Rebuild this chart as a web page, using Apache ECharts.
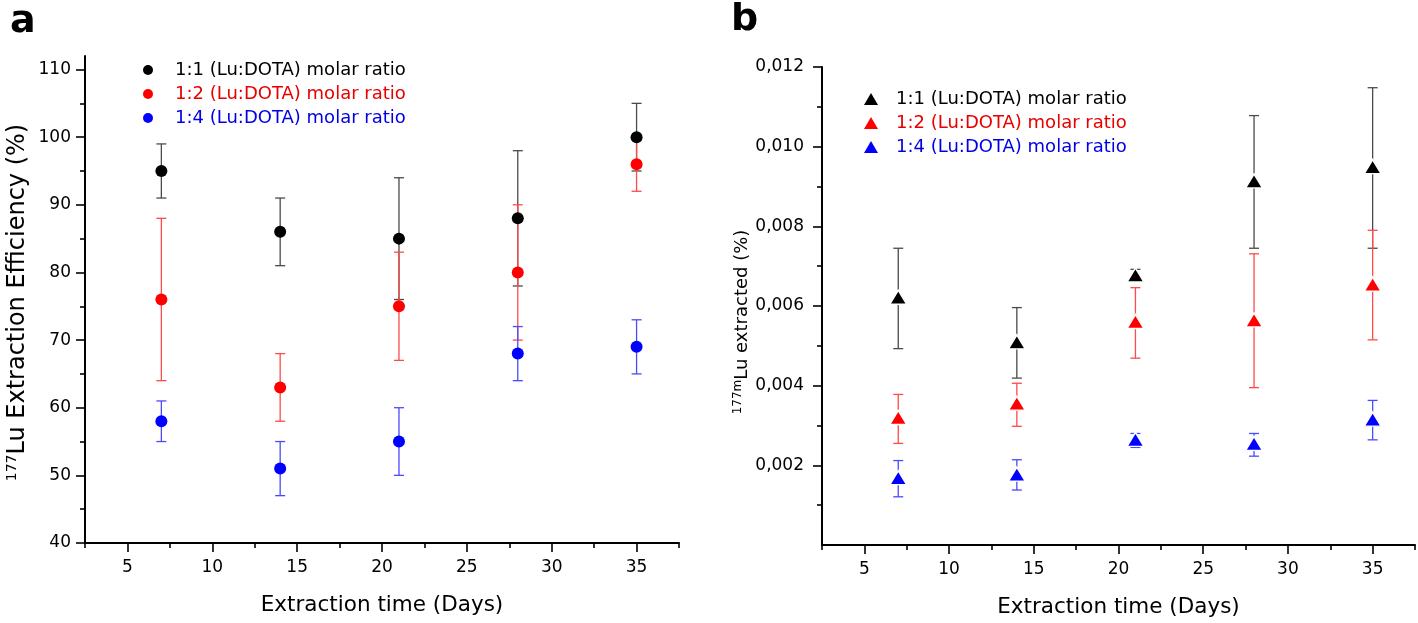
<!DOCTYPE html>
<html><head><meta charset="utf-8">
<script src="https://cdn.jsdelivr.net/npm/echarts@6/dist/echarts.min.js"></script>
<style>html,body{margin:0;padding:0;background:#fff}#c{width:1418px;height:623px}</style>
</head><body><div id="c"></div>
<script>
// ---------- data ----------
const days = [7, 14, 21, 28, 35];
const seriesNames = ['1:1 (Lu:DOTA) molar ratio', '1:2 (Lu:DOTA) molar ratio', '1:4 (Lu:DOTA) molar ratio'];

// Panel a: 177Lu extraction efficiency (%)
const effMean11 = [95, 86, 85, 88, 100];
const effLow11  = [91, 81, 76, 78, 95];
const effHigh11 = [99, 91, 94, 98, 105];
const effMean12 = [76, 63, 75, 80, 96];
const effLow12  = [64, 58, 67, 70, 92];
const effHigh12 = [88, 68, 83, 90, 100];
const effMean14 = [58, 51, 55, 68, 69];
const effLow14  = [55, 47, 50, 64, 65];
const effHigh14 = [61, 55, 60, 72, 73];

// Panel b: 177mLu extracted (%)
const extMean11 = [0.00622, 0.00510, 0.00678, 0.00914, 0.00950];
const extLow11  = [0.00493, 0.00419, 0.00665, 0.00745, 0.00745];
const extHigh11 = [0.00745, 0.00596, 0.00692, 0.01078, 0.01148];
const extMean12 = [0.00320, 0.00356, 0.00561, 0.00565, 0.00655];
const extLow12  = [0.00255, 0.00298, 0.00469, 0.00395, 0.00515];
const extHigh12 = [0.00378, 0.00406, 0.00646, 0.00731, 0.00790];
const extMean14 = [0.00169, 0.00178, 0.00265, 0.00255, 0.00316];
const extLow14  = [0.00121, 0.00138, 0.00245, 0.00223, 0.00264];
const extHigh14 = [0.00212, 0.00214, 0.00280, 0.00280, 0.00363];

// ticks
const xMajorTicks = [5, 10, 15, 20, 25, 30, 35];
const xMinorTicks = [2.5, 7.5, 12.5, 17.5, 22.5, 27.5, 32.5, 37.5];
const effMajorTicks = [40, 50, 60, 70, 80, 90, 100, 110];
const effMinorTicks = [45, 55, 65, 75, 85, 95, 105];
const extMajorTicks = [0.002, 0.004, 0.006, 0.008, 0.010, 0.012];
const extMinorTicks = [0.001, 0.003, 0.005, 0.007, 0.009, 0.011];

// ---------- styling ----------
const FONT = 'DejaVu Sans';
const markerColors = ['#000000', '#ff0000', '#0000ff'];
const textColors = ['#000000', '#e60000', '#0000e6'];
const errColors = ['#4a4a4a', '#ff4a4a', '#4a4aff'];

const chart = echarts.init(document.getElementById('c'));

function errSeries(xi, yi, lows, highs, color) {
  return {
    type: 'custom', xAxisIndex: xi, yAxisIndex: yi, silent: true,
    data: days.map((d, i) => [d, lows[i], highs[i]]),
    encode: { x: 0, y: [1, 2] },
    renderItem: function (params, api) {
      const x = api.value(0);
      const pLo = api.coord([x, api.value(1)]);
      const pHi = api.coord([x, api.value(2)]);
      const hw = 5;
      const st = { stroke: color, lineWidth: 1.3, fill: null };
      return {
        type: 'group',
        children: [
          { type: 'line', shape: { x1: pLo[0], y1: pLo[1], x2: pHi[0], y2: pHi[1] }, style: st },
          { type: 'line', shape: { x1: pLo[0] - hw, y1: pLo[1], x2: pLo[0] + hw, y2: pLo[1] }, style: st },
          { type: 'line', shape: { x1: pHi[0] - hw, y1: pHi[1], x2: pHi[0] + hw, y2: pHi[1] }, style: st }
        ]
      };
    }
  };
}
function scatterSeries(name, xi, yi, means, color, symbol, size, border) {
  return {
    name: name, type: 'scatter', xAxisIndex: xi, yAxisIndex: yi,
    symbol: symbol, symbolSize: size,
    itemStyle: { color: color, opacity: 1, borderColor: border ? '#ffffff' : color, borderWidth: border ? 1.5 : 0 },
    data: days.map((d, i) => [d, means[i]])
  };
}

const effSets = [[effMean11, effLow11, effHigh11], [effMean12, effLow12, effHigh12], [effMean14, effLow14, effHigh14]];
const extSets = [[extMean11, extLow11, extHigh11], [extMean12, extLow12, extHigh12], [extMean14, extLow14, extHigh14]];

const series = [];
effSets.forEach((s, k) => {
  series.push(errSeries(0, 0, s[1], s[2], errColors[k]));
  series.push(scatterSeries(seriesNames[k], 0, 0, s[0], markerColors[k], 'circle', 12, false));
});
extSets.forEach((s, k) => {
  series.push(errSeries(2, 2, s[1], s[2], errColors[k]));
  series.push(scatterSeries(seriesNames[k], 2, 2, s[0], markerColors[k], 'triangle', [17, 14], true));
});

const axisLineStyle = { show: true, onZero: false, lineStyle: { color: '#000', width: 2 } };
const tickStyle = { color: '#000', width: 1.6 };
const labelBase = { color: '#000', fontSize: 17, fontFamily: FONT };

function mainX(gi) {
  return {
    gridIndex: gi, type: 'value', min: 2.5, max: 37.5,
    axisLine: axisLineStyle,
    axisTick: { show: true, customValues: xMajorTicks, length: 9, lineStyle: tickStyle },
    axisLabel: Object.assign({ customValues: xMajorTicks, margin: 16 }, labelBase),
    splitLine: { show: false },
    name: 'Extraction time (Days)', nameLocation: 'middle', nameGap: 51,
    nameTextStyle: { fontSize: 21.5, color: '#000', fontFamily: FONT }
  };
}
function minorX(gi) {
  return {
    gridIndex: gi, type: 'value', min: 2.5, max: 37.5,
    axisLine: { show: false, onZero: false },
    axisTick: { show: true, customValues: xMinorTicks, length: 5, lineStyle: tickStyle },
    axisLabel: { show: false }, splitLine: { show: false }
  };
}

const option = {
  animation: false,
  backgroundColor: '#fff',
  textStyle: { fontFamily: FONT },
  title: [
    { text: 'a', left: 10, top: 3, padding: 0, textStyle: { fontSize: 38, fontWeight: 'bold', color: '#000', fontFamily: FONT } },
    { text: 'b', left: 731, top: 1, padding: 0, textStyle: { fontSize: 38, fontWeight: 'bold', color: '#000', fontFamily: FONT } }
  ],
  legend: [
    {
      orient: 'vertical', left: 143, top: 61, padding: 0, itemGap: 6, itemWidth: 10, itemHeight: 10,
      selectedMode: false,
      textStyle: { fontSize: 18, fontFamily: FONT, padding: [0, 0, 0, 17] },
      data: seriesNames.map((n, i) => ({ name: n, icon: 'circle', itemStyle: { color: markerColors[i] }, textStyle: { color: textColors[i] } }))
    },
    {
      orient: 'vertical', left: 864, top: 90, padding: 0, itemGap: 6, itemWidth: 14, itemHeight: 12,
      selectedMode: false,
      textStyle: { fontSize: 18, fontFamily: FONT, padding: [0, 0, 0, 13] },
      data: seriesNames.map((n, i) => ({ name: n, icon: 'triangle', itemStyle: { color: markerColors[i], borderWidth: 0 }, textStyle: { color: textColors[i] } }))
    }
  ],
  grid: [
    { left: 85, width: 594, top: 56, bottom: 80 },
    { left: 85, width: 594, top: 56, bottom: 80 },
    { left: 822, width: 593, top: 67, bottom: 78 },
    { left: 822, width: 593, top: 67, bottom: 78 }
  ],
  xAxis: [mainX(0), minorX(1), mainX(2), minorX(3)],
  yAxis: [
    {
      gridIndex: 0, type: 'value', min: 40, max: 112,
      axisLine: axisLineStyle,
      axisTick: { show: true, customValues: effMajorTicks, length: 9, lineStyle: tickStyle },
      axisLabel: Object.assign({ customValues: effMajorTicks, margin: 14 }, labelBase),
      splitLine: { show: false },
      name: '{sup|177}{main|Lu Extraction Efficiency (%)}', nameLocation: 'middle', nameGap: 54,
      nameTextStyle: {
        color: '#000', fontFamily: FONT, padding: [0, 6, 0, 0],
        rich: {
          sup: { fontSize: 14, padding: [0, 0, 12, 0], fontFamily: FONT, color: '#000' },
          main: { fontSize: 24, fontFamily: FONT, color: '#000' }
        }
      }
    },
    {
      gridIndex: 1, type: 'value', min: 40, max: 112,
      axisLine: { show: false },
      axisTick: { show: true, customValues: effMinorTicks, length: 5, lineStyle: tickStyle },
      axisLabel: { show: false }, splitLine: { show: false }
    },
    {
      gridIndex: 2, type: 'value', min: 0, max: 0.012,
      axisLine: axisLineStyle,
      axisTick: { show: true, customValues: extMajorTicks, length: 9, lineStyle: tickStyle },
      axisLabel: Object.assign({ customValues: extMajorTicks, margin: 18, formatter: v => v.toFixed(3).replace('.', ',') }, labelBase),
      splitLine: { show: false },
      name: '{sup|177m}{main|Lu extracted (%)}', nameLocation: 'middle', nameGap: 68,
      nameTextStyle: {
        color: '#000', fontFamily: FONT, padding: [0, 32, 0, 0],
        rich: {
          sup: { fontSize: 12, padding: [0, 0, 9, 0], fontFamily: FONT, color: '#000' },
          main: { fontSize: 18, fontFamily: FONT, color: '#000' }
        }
      }
    },
    {
      gridIndex: 3, type: 'value', min: 0, max: 0.012,
      axisLine: { show: false },
      axisTick: { show: true, customValues: extMinorTicks, length: 5, lineStyle: tickStyle },
      axisLabel: { show: false }, splitLine: { show: false }
    }
  ],
  series: series
};
chart.setOption(option);
</script>
</body></html>
